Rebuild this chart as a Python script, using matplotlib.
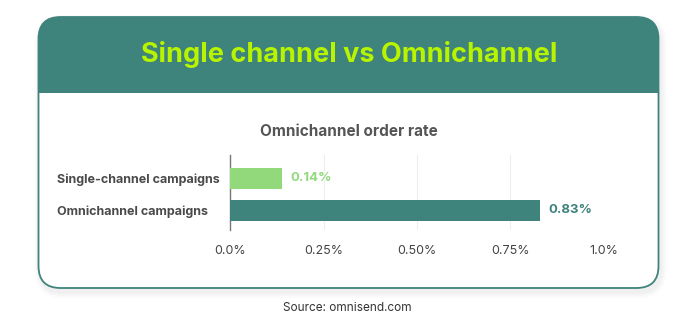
import matplotlib.pyplot as plt
from matplotlib.patches import FancyBboxPatch, Rectangle

# data
categories = ["Omnichannel campaigns", "Single-channel campaigns"]
rates = [0.83, 0.14]
value_labels = ["0.83%", "0.14%"]
tick_values = [0.0, 0.25, 0.5, 0.75, 1.0]
tick_labels = ["0.0%", "0.25%", "0.50%", "0.75%", "1.0%"]

teal = "#3e837c"
lime = "#b8f400"
light_green = "#92d97c"
text_gray = "#555555"

plt.rcParams['font.family'] = ['Inter', 'DejaVu Sans']

W, H = 700, 331
fig = plt.figure(figsize=(W / 100, H / 100), dpi=100)
fig.patch.set_facecolor("white")

# background layer in pixel coords
bg = fig.add_axes([0, 0, 1, 1])
bg.set_xlim(0, W)
bg.set_ylim(H, 0)
bg.axis("off")

left, right, top, bottom, head = 38.5, 658.5, 17, 288, 93
r = 22

# soft shadow
for i, a in enumerate([0.025, 0.02, 0.015]):
    d = 2 + i * 2
    bg.add_patch(FancyBboxPatch((left - d + 2, top - d + 4), right - left + 2 * d, bottom - top + 2 * d,
                                boxstyle=f"round,pad=0,rounding_size={r + d}",
                                facecolor="black", edgecolor="none", alpha=a))

# card body
bg.add_patch(FancyBboxPatch((left, top), right - left, bottom - top,
                            boxstyle=f"round,pad=0,rounding_size={r}",
                            facecolor="white", edgecolor="none"))
# header
bg.add_patch(FancyBboxPatch((left, top), right - left, head - top + 40,
                            boxstyle=f"round,pad=0,rounding_size={r}",
                            facecolor=teal, edgecolor="none"))
bg.add_patch(Rectangle((left, head), right - left, 45,
                       facecolor="white", edgecolor="none"))
# card outline on top
bg.add_patch(FancyBboxPatch((left, top), right - left, bottom - top,
                            boxstyle=f"round,pad=0,rounding_size={r}",
                            facecolor="none", edgecolor=teal, lw=1.3))

bg.text(W / 2 - 1, 55, "Single channel vs Omnichannel", color=lime,
        fontsize=19.5, fontweight="bold", ha="center", va="center")
bg.text(349, 131, "Omnichannel order rate", color=text_gray,
        fontsize=11, fontweight="bold", ha="center", va="center")
bg.text(347, 308, "Source: omnisend.com", color="#333333",
        fontsize=8.5, ha="center", va="center")

# chart
x0, x1 = 230, 604
y_top, y_bot = 155, 230
ax = fig.add_axes([x0 / W, 1 - y_bot / H, (x1 - x0) / W, (y_bot - y_top) / H])
ax.set_facecolor("none")

ypos = [0, 1]
ax.barh(ypos, rates, height=0.66, color=[teal, light_green], zorder=3)
ax.set_xlim(0, 1.0)
ax.set_ylim(-0.61, 1.73)

for y, v, lab, c in zip(ypos, rates, value_labels, [teal, light_green]):
    ax.text(v + 0.022, y, lab, color=c, fontsize=9.5, fontweight="bold",
            ha="left", va="center")

ax.set_xticks(tick_values)
ax.set_xticklabels(tick_labels, color="#444444", fontsize=9)
ax.tick_params(axis="x", length=0, pad=11)
ax.set_yticks(ypos)
ax.set_yticklabels(categories, color="#4a4a4a", fontsize=9, fontweight="bold")
# pad in points: labels start at about x=57 px
ax.tick_params(axis="y", length=0, pad=(x0 - 57) * 0.72)
for t in ax.get_yticklabels():
    t.set_horizontalalignment("left")

ax.grid(axis="x", color="#eeeeee", lw=0.8, zorder=0)
for s in ["top", "right", "bottom"]:
    ax.spines[s].set_visible(False)
ax.spines["left"].set_color("#777777")
ax.spines["left"].set_linewidth(1.0)

fig.savefig("out.png", dpi=100)
